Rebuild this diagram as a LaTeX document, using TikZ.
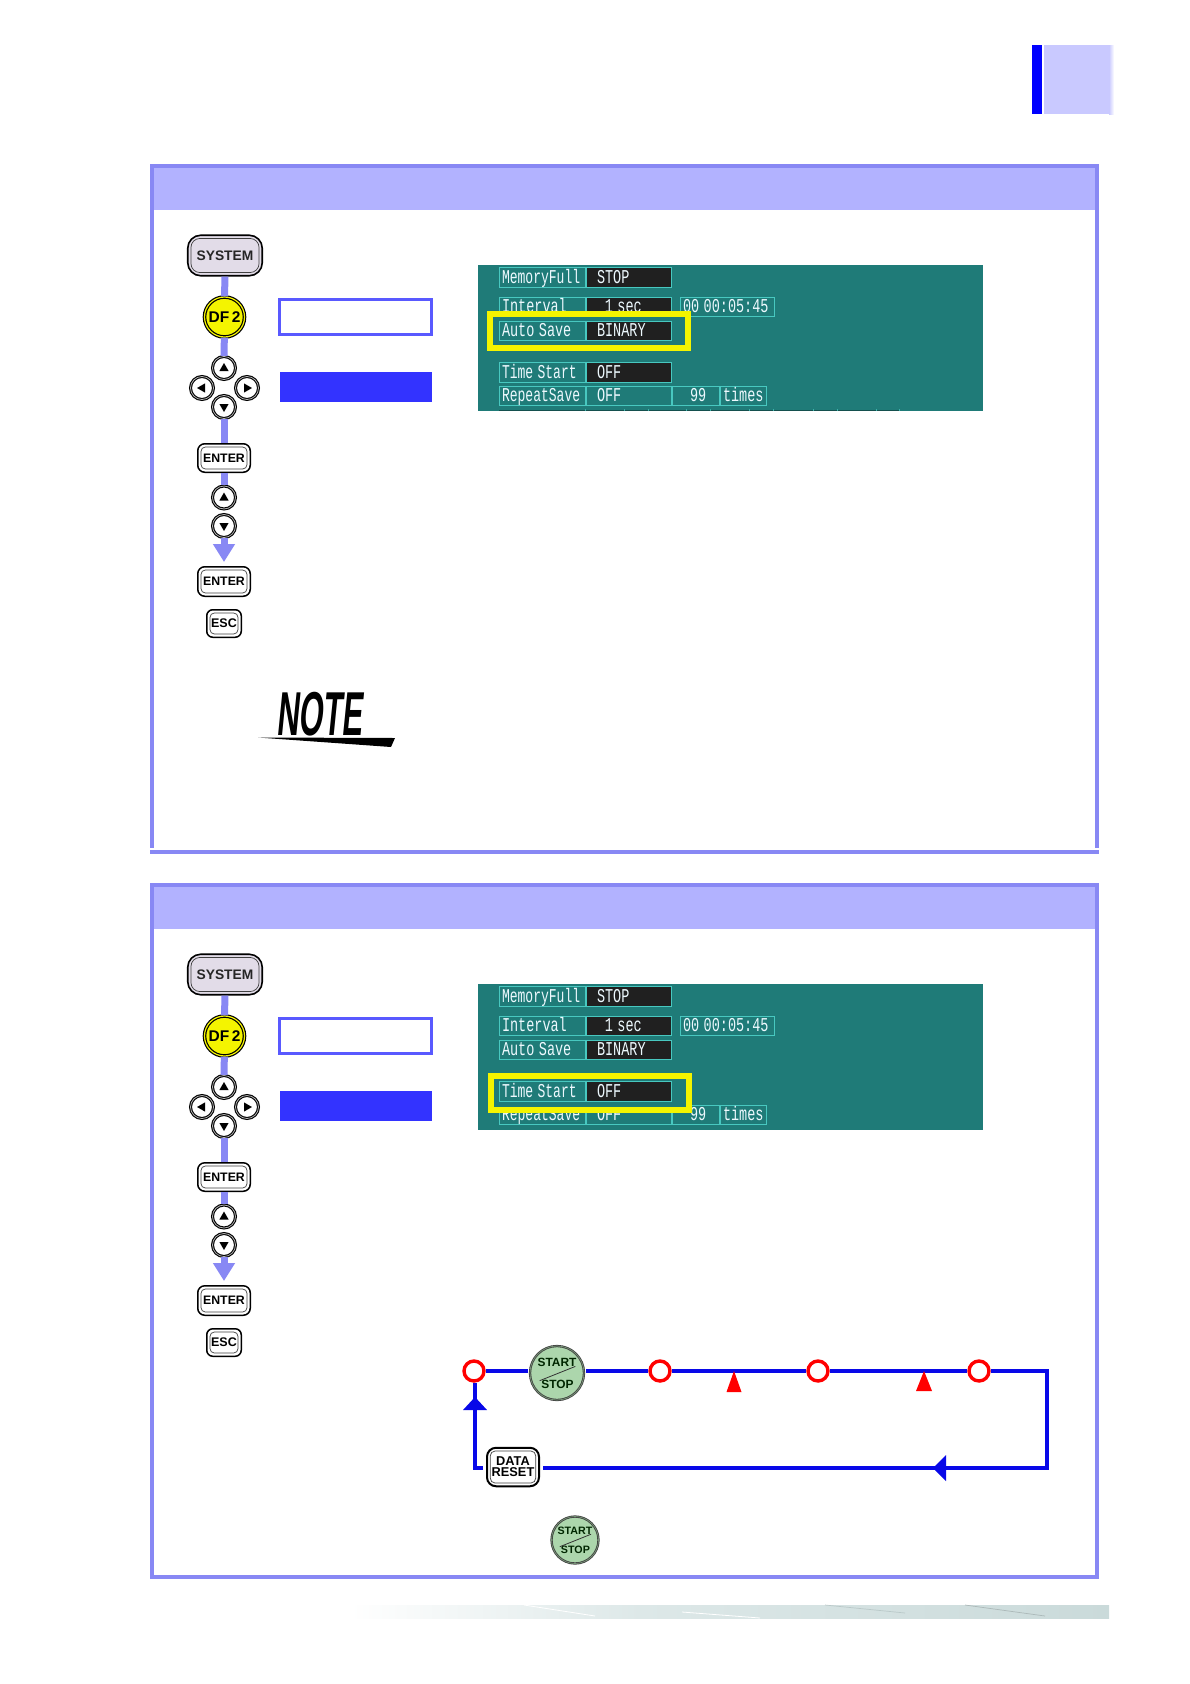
\documentclass[tikz,border=0pt]{standalone}
\usepackage{fontspec}
\setmainfont{Liberation Sans}
\newfontfamily\scrfont{Liberation Mono}
\usetikzlibrary{arrows.meta,calc}
\definecolor{frameC}{HTML}{8888F4}
\definecolor{headC}{HTML}{B2B2FF}
\definecolor{connC}{HTML}{8888F4}
\definecolor{scrC}{HTML}{1F7B78}
\definecolor{fldC}{HTML}{48C8C0}
\definecolor{darkF}{HTML}{202020}
\definecolor{loopC}{HTML}{0808E8}
\definecolor{yelC}{HTML}{F4F400}
\definecolor{grnC}{HTML}{ACD6AC}
\definecolor{sysC}{HTML}{E2DCE8}
\definecolor{bandA}{HTML}{DDE8E8}
\definecolor{bandB}{HTML}{CADADA}
\tikzset{
 inset/.style={path picture={\draw[black!75,line width=.7pt,rounded corners=#1] ([shift={(3.2,3.2)}]path picture bounding box.north west) rectangle ([shift={(-3.2,-3.2)}]path picture bounding box.south east);}},
 sysbtn/.style={draw=black,line width=1.6pt,fill=sysC,rounded corners=13pt,inset=9pt,minimum width=74.5pt,minimum height=40.5pt,inner sep=0pt,font=\bfseries\fontsize{13.8}{14}\selectfont,text=black!85},
 keybtn/.style={draw=black,line width=1.5pt,fill=white,rounded corners=7pt,inset=4.5pt,inner sep=0pt,font=\bfseries\fontsize{12.3}{12}\selectfont},
 cirbtn/.style={circle,draw=black,line width=1.1pt,double=black!30,double distance=.8pt,fill=white,minimum size=23pt,inner sep=0pt},
 dfbtn/.style={circle,draw=black,line width=1.2pt,double=yelC,double distance=1.2pt,fill=yelC,minimum size=40pt,inner sep=0pt,font=\bfseries\fontsize{15.5}{14}\selectfont},
 conn/.style={draw=connC,line width=7pt},
 connarr/.style={conn,-{Triangle[width=21pt,length=18pt]},shorten >=4pt},
 whitebox/.style={draw=black!0!blue!65!white,line width=3pt,fill=white,minimum width=152pt,minimum height=35pt,inner sep=0pt},
 bluebox/.style={fill=blue!80!white,minimum width=152pt,minimum height=30pt,inner sep=0pt},
 fld/.style={draw=fldC,line width=.7pt,inner xsep=3pt,inner ysep=0pt,align=left,text=white!93!cyan,text height=13.5pt,text depth=1.5pt,font=\scrfont\fontsize{13.5}{13}\selectfont},
 yelbox/.style={draw=yelC,line width=6pt,fill=scrC,inner sep=0pt,minimum width=198pt,minimum height=34pt},
 loopline/.style={draw=loopC,line width=4.3pt},
 loopdot/.style={circle,draw=red,line width=3.4pt,fill=white,minimum size=20pt,inner sep=0pt},
 ssbtn/.style={circle,draw=black!75,line width=.8pt,double=grnC!70!black,double distance=.7pt,fill=grnC,inner sep=0pt},
 rstbtn/.style={draw=black,line width=2pt,fill=white,rounded corners=9pt,inset=5pt,inner sep=0pt,minimum width=52pt,minimum height=38.5pt,align=center,font=\bfseries\fontsize{12.8}{12.5}\selectfont},
}
\newcommand{\tall}[1]{\scalebox{1}[1.45]{#1}}
\newcommand{\narrow}[1]{\scalebox{.965}[1.45]{#1}}
% one screen field: name, x1, x2, y1, y2, fill, text
\newcommand{\scrfld}[7]{\node[fld,fill=#6,anchor=center,text width={(#3-#2-6)*1pt},minimum height={(#5-#4)*1pt}] (#1) at ({(#2+#3)/2},{(#4+#5)/2}) {#7};}
% round arrow key
\newcommand{\arrbtn}[4]{\node[cirbtn] (#1) at (#2,#3) {};
 \fill[shift={(#1.center)},rotate=#4] (0,-5) -- (4.6,3) -- (-4.6,3) -- cycle;}
% start/stop key: name, x, y, radius, font size
\newcommand{\ssbtn}[5]{\node[ssbtn,minimum size={(2*#4-3)*1pt}] (#1) at (#2,#3) {};
 \begin{scope}[shift={(#1.center)},scale=#4/28]
  \node[inner sep=0pt,text=black!85!green,font=\bfseries\fontsize{#5}{#5}\selectfont] (#1t) at (0,-10) {START};
  \node[inner sep=0pt,text=black!85!green,font=\bfseries\fontsize{#5}{#5}\selectfont] (#1b) at (0.5,11) {STOP};
  \draw[line width=.8pt,black!80] (-17,7.5) -- (18,-6.5);
 \end{scope}}
% the key column, common to the two panels
\newcommand{\keycolumn}[1]{
 \node[sysbtn] (sys#1) at (225,255.5) {SYSTEM};
 \node[dfbtn] (df#1) at (224.5,317) {DF\,2};
 \arrbtn{up#1}{224}{368}{0}
 \arrbtn{lf#1}{202}{388}{90}
 \arrbtn{rt#1}{247}{388}{-90}
 \arrbtn{dn#1}{224}{407}{180}
 \node[keybtn,minimum width=52.5pt,minimum height=28.5pt] (en#1) at (224,458) {ENTER};
 \arrbtn{upb#1}{224}{497.5}{0}
 \arrbtn{dnb#1}{224}{526}{180}
 \node[keybtn,minimum width=52.5pt,minimum height=29.5pt] (enb#1) at (224,581.5) {ENTER};
 \node[keybtn,minimum width=34.5pt,minimum height=27.5pt,rounded corners=6pt,font=\bfseries\fontsize{12.5}{12}\selectfont] (esc#1) at (224,623.5) {ESC};
 \draw[conn] (sys#1) -- (df#1);
 \draw[conn] (df#1) -- (up#1);
 \draw[conn] (dn#1) -- (en#1);
 \draw[conn] (en#1) -- (upb#1);
 \draw[connarr] (dnb#1) -- (enb#1);
 \node[whitebox] (wb#1) at (355.5,317) {};
 \node[bluebox] (bb#1) at (356,387) {};
}
% the screen rows, common to the two panels
\newcommand{\autorow}[1]{
 \scrfld{lc#1}{499}{585}{321}{340}{scrC}{\tall{Auto Save}}
 \scrfld{vc#1}{586}{671}{321}{340}{darkF}{\tall{\hspace*{8pt}BINARY}}}
\newcommand{\startrow}[1]{
 \scrfld{ld#1}{499}{585}{362}{382}{scrC}{\narrow{Time Start}}
 \scrfld{vd#1}{586}{671}{362}{382}{darkF}{\tall{\hspace*{8pt}OFF}}}
\newcommand{\screenrows}[1]{
 \scrfld{la#1}{499}{585}{267}{287}{scrC}{\narrow{MemoryFull}}
 \scrfld{va#1}{586}{671}{267}{287}{darkF}{\tall{\hspace*{8pt}STOP}}
 \scrfld{lb#1}{499}{585}{297}{316}{scrC}{\tall{Interval}}
 \scrfld{vb#1}{586}{671}{297}{316}{darkF}{\tall{\hspace*{15.8pt}1 sec}}
 \scrfld{tb#1}{680}{774}{297}{316}{scrC}{\tall{00 00:05:45}}
 \autorow{#1}
 \startrow{#1}
 \scrfld{le#1}{499}{585}{386}{405}{scrC}{\narrow{RepeatSave}}
 \scrfld{ve#1}{586}{671}{386}{405}{scrC}{\tall{\hspace*{8pt}OFF}}
 \scrfld{ne#1}{672}{719}{386}{405}{scrC}{\tall{\hspace*{15pt}99}}
 \scrfld{xe#1}{720}{766}{386}{405}{scrC}{\tall{times}}
}
\begin{document}
\begin{tikzpicture}[x=1pt,y=-1pt]
\useasboundingbox (0,0) rectangle (1190,1684);
\fill[white] (0,0) rectangle (1190,1684);

% corner tab
\fill[blue] (1032,45) rectangle (1042,114);
\fill[blue!21!white] (1044,45) rectangle (1109,114);
\shade[left color=blue!21!white,right color=white] (1109,45) rectangle (1114,114);

% panel 1
\fill[headC] (152,166) rectangle (1097,210);
\fill[frameC] (150,164) rectangle (1099,168);
\fill[frameC] (150,164) rectangle (154,848);
\fill[frameC] (1095,164) rectangle (1099,848);
\fill[frameC] (150,850) rectangle (1099,854);

% panel 2
\fill[headC] (152,885) rectangle (1097,929);
\draw[frameC,line width=4pt] (152,885) rectangle (1097,1577);

% panel 1 contents
\keycolumn{A}
\fill[scrC] (478,265) rectangle (983,411);
\screenrows{A}
\fill[black!35!scrC] (499,409.5) rectangle (899,411);
\foreach \tx in {585,624,648,686,710,749,773,813,837,876,899}{\fill[fldC!70!scrC] (\tx,408.5) rectangle (\tx+.8,411);}
\node[yelbox] (ya) at (589,331) {};
\autorow{Y}

% NOTE mark
\node[inner sep=0pt,transform shape,xscale=.5,xslant=.2,font=\bfseries\fontsize{62}{62}\selectfont] (note) at (321.5,714) {NOTE};
\fill (258,737.5) -- (395,738) -- (391,747) -- cycle;

% panel 2 contents
\begin{scope}[yshift=-719pt]
\keycolumn{B}
\fill[scrC] (478,265) rectangle (983,411);
\screenrows{B}
\node[yelbox] (yb) at (590,373.5) {};
\startrow{Y}
\end{scope}

% recording cycle
\coordinate (ne) at (1047,1371);
\coordinate (se) at (1047,1468);
\coordinate (la) at (933,1468);
\coordinate (sw) at (475,1468);
\coordinate (ua) at (475,1397);
\node[loopdot] (ca) at (474,1371) {};
\node[loopdot] (cb) at (660,1371) {};
\node[loopdot] (cc) at (818,1371) {};
\node[loopdot] (cd) at (979,1371) {};
\ssbtn{ssa}{557}{1373}{28.5}{11.9}
\node[rstbtn] (dr) at (513,1467) {DATA\\[-1.5pt]RESET};
\draw[loopline,shorten >=2pt] (ca) -- (ca -| ssa.west);
\draw[loopline,shorten <=2pt] (cb -| ssa.east) -- (cb);
\draw[loopline] (cb) -- (cc);
\draw[loopline] (cc) -- (cd);
\draw[loopline,line join=miter] (cd) -- (ne) -- (se) -- (la);
\fill[loopC] (933,1468) -- (946,1455) -- (946,1481) -- cycle;
\draw[loopline,shorten >=3pt] (la) -- (la -| dr.east);
\draw[loopline,shorten <=3pt,line join=miter] (sw -| dr.west) -- (sw) -- (ua);
\fill[loopC] (475,1397) -- (463,1410) -- (487,1410) -- cycle;
\draw[loopline] (ua) -- (ua |- ca.south);
\fill[red] (734,1371) -- (741.5,1392) -- (726.5,1392) -- cycle;
\fill[red] (924,1371) -- (932,1391) -- (916,1391) -- cycle;
\ssbtn{ssb}{575}{1540}{25}{10.7}

% footer band
\shade[left color=white,right color=bandA] (350,1605) rectangle (640,1618);
\shade[left color=bandA,right color=bandB] (640,1605) rectangle (1109,1618);
\draw[white,line width=.8pt] (524,1605) -- (595,1616);
\draw[white,line width=.8pt] (682,1612) -- (760,1618);
\draw[bandB!92!black,line width=.7pt] (825,1605) -- (905,1613);
\draw[bandB!85!black,line width=.7pt] (965,1605) -- (1045,1616);
\end{tikzpicture}
\end{document}
